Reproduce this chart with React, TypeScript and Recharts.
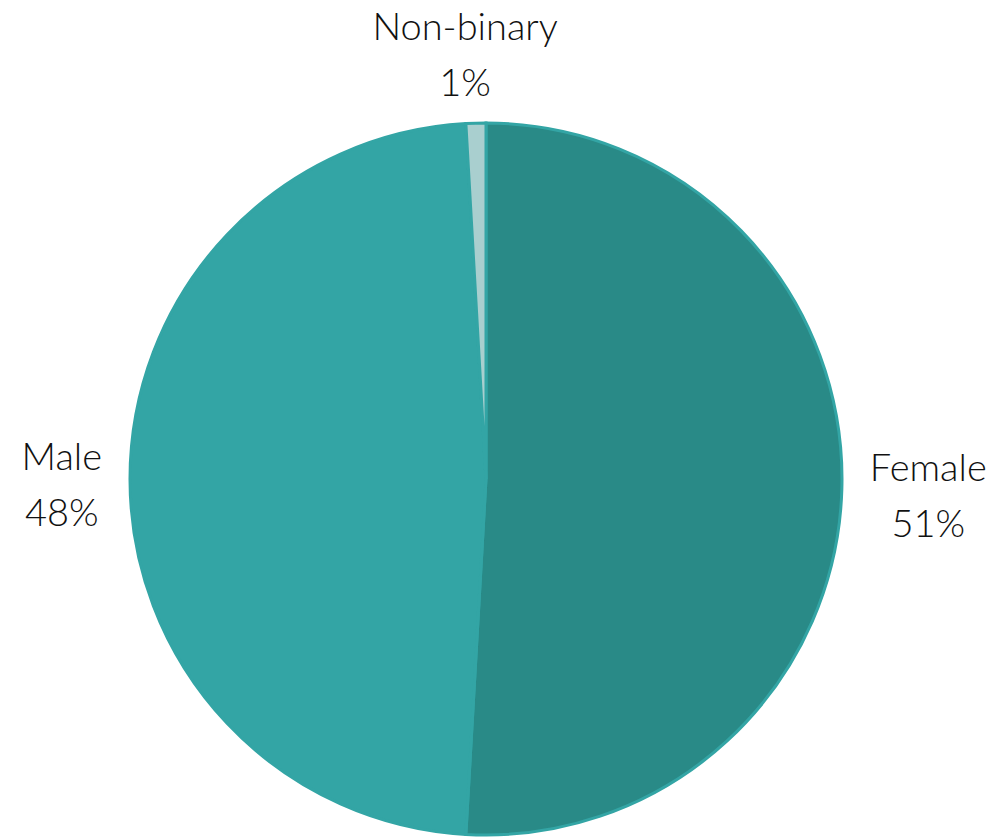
import { PieChart, Pie, Cell } from "recharts";

const categories = ["Female", "Male", "Non-binary"];
const shares = [50.9, 48.2, 0.9];
const shareLabels = ["51%", "48%", "1%"];
const colors = ["#298a87", "#33a5a5", "#a9cfcf"];

const data = categories.map((name, i) => ({ name, value: shares[i], label: shareLabels[i] }));

const RADIAN = Math.PI / 180;
const FONT = "300 38px Lato, 'Open Sans', sans-serif";

let ctx: CanvasRenderingContext2D | null = null;
function textWidth(s: string) {
  if (!ctx) ctx = document.createElement("canvas").getContext("2d");
  if (!ctx) return s.length * 19;
  ctx.font = FONT;
  return ctx.measureText(s).width;
}

function renderLabel(props: any) {
  const { cx, cy, midAngle, outerRadius, index } = props;
  const d = data[index];
  const r = outerRadius + 28;
  const cos = Math.cos(-midAngle * RADIAN);
  const sin = Math.sin(-midAngle * RADIAN);
  const half = Math.max(textWidth(d.name), textWidth(d.label)) / 2;
  let x = cx + r * cos;
  const y = cy + r * sin;
  let first = y - 9;
  if (cos > 0.5) x += half;
  else if (cos < -0.5) x -= half;
  else {
    x -= 10;
    first = y - 55;
  }
  return (
    <text
      x={x}
      y={first}
      textAnchor="middle"
      fill="#111"
      fontFamily="Lato, 'Open Sans', sans-serif"
      fontSize={38}
      fontWeight={300}
    >
      <tspan x={x} y={first}>{d.name}</tspan>
      <tspan x={x} y={first + 56}>{d.label}</tspan>
    </text>
  );
}

export default function App() {
  return (
    <div style={{ position: "absolute", left: 0, top: 0, width: 1000, height: 839, background: "#fff" }}>
      <PieChart width={1000} height={839} margin={{ top: 0, right: 0, bottom: 0, left: 0 }}>
        <Pie
          data={data}
          dataKey="value"
          cx={486}
          cy={479}
          outerRadius={356}
          startAngle={90}
          endAngle={-270}
          stroke="#33a5a5"
          strokeWidth={3}
          label={renderLabel}
          labelLine={false}
          isAnimationActive={false}
        >
          {data.map((d, i) => (
            <Cell key={d.name} fill={colors[i]} />
          ))}
        </Pie>
      </PieChart>
    </div>
  );
}
